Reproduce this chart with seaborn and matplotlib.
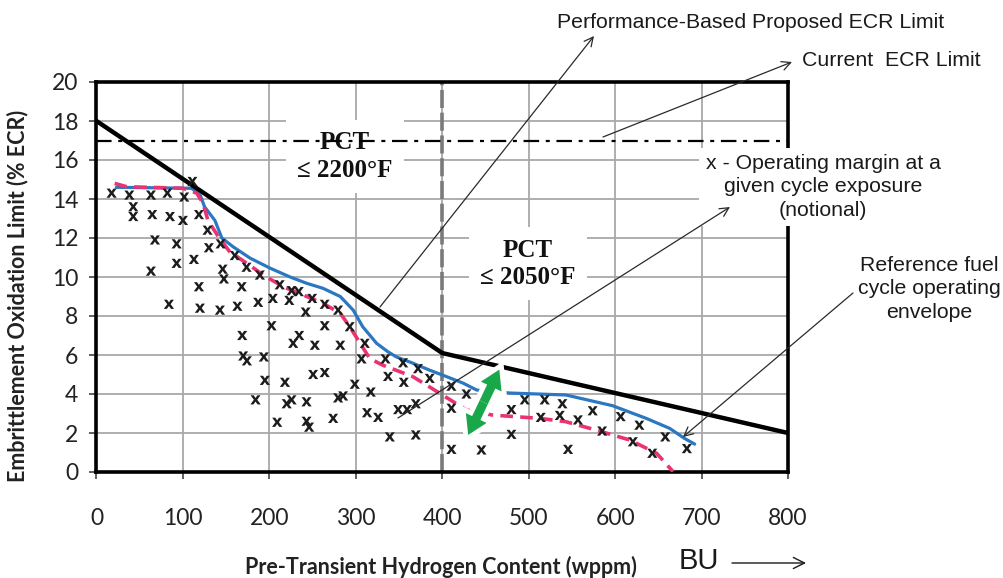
import numpy as np
import pandas as pd
import matplotlib
matplotlib.use("Agg")
import matplotlib.pyplot as plt
import seaborn as sns
from matplotlib.patches import FancyArrowPatch

# ---------------- data ----------------
limit_x = [0, 400, 800]
limit_y = [18.0, 6.1, 2.0]

current_x = [0, 800]
current_y = [17.0, 17.0]

blue_x = [23, 110, 120, 125, 137, 145, 158, 178, 201, 224, 243, 262, 282, 297, 308, 324,
          337, 347, 366, 385, 405, 424, 440, 478, 543, 597, 636, 663, 680, 692]
blue_y = [14.6, 14.55, 14.2, 13.6, 12.9, 12.0, 11.55, 10.96, 10.45, 10.0, 9.68, 9.42, 9.0,
          8.3, 7.45, 6.6, 6.17, 5.9, 5.58, 5.23, 4.89, 4.56, 4.2, 4.05, 3.95, 3.4, 2.75,
          2.24, 1.73, 1.43]

pink_x = [21, 35, 100, 116, 123, 129, 141, 154, 174, 193, 216, 239, 262, 282, 293, 305, 316,
          330, 366, 397, 428, 458, 513, 543, 578, 617, 648, 667]
pink_y = [14.8, 14.63, 14.55, 14.3, 13.8, 12.9, 12.07, 11.3, 10.7, 10.1, 9.5, 9.08, 8.65,
          8.14, 7.45, 6.6, 5.83, 5.5, 4.89, 4.04, 3.18, 2.92, 2.75, 2.58, 2.15, 1.64, 0.96, 0.02]

pts_x = [17.5, 38, 63, 82, 101.5, 111, 42.5, 42.5, 64.5, 85, 100, 118.5, 128.5, 67.6, 92.7,
         130, 143.6, 63, 92.7, 112.7, 146, 147.4, 160, 173.6, 189, 118.5, 168, 83.8, 119.7,
         142.8, 163, 187, 204, 223, 212, 225.7, 234, 249.5, 264, 279.5, 242, 168.6, 202.5,
         264, 234.5, 227.5, 252.6, 282, 169.7, 174, 193.6, 194.8, 218, 184, 220, 225.7, 243,
         250.6, 264, 279.5, 285.3, 209, 243, 246, 273.8,
         293, 310.4, 306.6, 334.3, 354.7, 372, 337.3, 355.5, 385.5, 298.8, 317.3, 313, 325.8,
         349, 359.3, 369.4, 339.3, 369.4, 410.6, 410.6, 428, 410.6, 445.3, 480, 480, 495.4,
         518.5, 539, 514, 536, 557, 574, 545.5, 585, 606.4, 628, 620.6, 643, 658, 683]
pts_y = [14.3, 14.2, 14.2, 14.3, 14.1, 14.9, 13.6, 13.1, 13.2, 13.1, 12.9, 13.2, 12.4, 11.9, 11.7,
         11.5, 11.7, 10.3, 10.7, 10.9, 10.4, 9.9, 11.1, 10.5, 10.1, 9.5, 9.5, 8.6, 8.4,
         8.3, 8.5, 8.7, 8.9, 8.8, 9.6, 9.3, 9.25, 8.9, 8.6, 8.3, 8.2, 7.0, 7.5,
         7.5, 7.0, 6.6, 6.5, 6.5, 5.95, 5.7, 5.9, 4.7, 4.6, 3.7, 3.5, 3.7, 3.6,
         5.0, 5.1, 3.8, 3.9, 2.55, 2.6, 2.3, 2.75,
         7.45, 6.6, 5.8, 5.8, 5.6, 5.3, 4.9, 4.6, 4.8, 4.5, 4.1, 3.04, 2.8,
         3.2, 3.2, 3.5, 1.8, 1.9, 4.4, 3.27, 4.0, 1.16, 1.13, 3.2, 1.93, 3.7,
         3.7, 3.5, 2.8, 2.9, 2.67, 3.14, 1.16, 2.1, 2.84, 2.4, 1.55, 0.96, 1.8, 1.2]

margin_arrow_x = [430, 466]
margin_arrow_y = [1.9, 5.25]

x_ticks = list(range(0, 801, 100))
y_ticks = list(range(0, 21, 2))

# ---------------- style ----------------
sns.set_theme(style="white")
plt.rcParams["font.family"] = ["Lato", "DejaVu Sans"]

W, H = 1004, 578
fig = plt.figure(figsize=(W / 100, H / 100), dpi=100)
ax = fig.add_axes([96.5 / W, 106 / H, 691.5 / W, 390 / H])

def fx(px):
    return px / W

def fy(py):
    return 1 - py / H

# reference lines
ax.axvline(400, color="#7a7a7a", lw=2.6, dashes=(5, 1.3), zorder=2)

sns.lineplot(x=blue_x, y=blue_y, ax=ax, color="#2b78c2", lw=2.3, sort=False,
             estimator=None, zorder=3)
sns.lineplot(x=pink_x, y=pink_y, ax=ax, color="#ea3373", lw=2.6, sort=False,
             estimator=None, zorder=3.2)
ax.lines[-1].set_dashes([3.5, 2])

sns.lineplot(x=limit_x, y=limit_y, ax=ax, color="black", lw=3.2, sort=False,
             estimator=None, zorder=4)
sns.lineplot(x=current_x, y=current_y, ax=ax, color="black", lw=1.6, sort=False,
             estimator=None, zorder=4)
ax.lines[-1].set_dashes([7, 3, 1.8, 3])

sns.scatterplot(x=pts_x, y=pts_y, ax=ax, marker=r"$\mathbf{x}$", s=55, color="#1c1c1c",
                edgecolor="none", linewidth=0, zorder=5)

# green double arrow with white outline
mid = ((margin_arrow_x[0] + margin_arrow_x[1]) / 2, (margin_arrow_y[0] + margin_arrow_y[1]) / 2)
ends = [(margin_arrow_x[0], margin_arrow_y[0]), (margin_arrow_x[1], margin_arrow_y[1])]
style = "simple,head_length=1.35,head_width=1.65,tail_width=0.65"
for end in ends:
    ax.add_patch(FancyArrowPatch(mid, end, arrowstyle=style, mutation_scale=10,
                                 fc="white", ec="white", lw=7, shrinkA=0, shrinkB=0,
                                 zorder=5.5, joinstyle="miter"))
for end in ends:
    ax.add_patch(FancyArrowPatch(mid, end, arrowstyle=style, mutation_scale=10,
                                 fc="#18a84a", ec="none", lw=0, shrinkA=0, shrinkB=0,
                                 zorder=6))

# PCT region labels
pct_kw = dict(family="Liberation Serif", weight="bold", size=18, ha="center", va="center",
              color="#111111", linespacing=1.25,
              bbox=dict(boxstyle="square,pad=0.45", fc="white", ec="none"), zorder=1)
ax.text(287, 16.18, "PCT\n≤ 2200°F", **pct_kw)
ax.text(499, 10.67, "PCT\n≤ 2050°F", **pct_kw)

# axes styling
ax.set_xlim(0, 800)
ax.set_ylim(0, 20)
ax.set_xticks(x_ticks)
ax.set_yticks(y_ticks)
ax.set_axisbelow(True)
ax.grid(True, color="#a8a8a8", lw=1.3)
for s in ax.spines.values():
    s.set_color("black")
    s.set_linewidth(2.6)
ax.tick_params(axis="both", direction="out", length=5, width=1.2, color="#444444",
               labelsize=16.5, labelcolor="#222222")
ax.tick_params(axis="x", pad=21, bottom=True)
ax.tick_params(axis="y", pad=8, left=True)

ax.set_xlabel("Pre-Transient Hydrogen Content (wppm)", weight="bold", size=15.5, color="#222222")
ax.set_ylabel("Embrittlement Oxidation Limit (% ECR)", weight="bold", size=15.5, color="#222222")
ax.xaxis.label.set_va("center")
ax.xaxis.set_label_coords((441 - 96.5) / 691.5, (472 - 567) / 390)
ax.yaxis.label.set_va("center")
ax.yaxis.label.set_ha("center")
ax.yaxis.set_label_coords((18 - 96.5) / 691.5, (472 - 296) / 390)

# annotation texts (figure positioned, drawn inside axes so arrows sit above boxes)
tkw = dict(transform=fig.transFigure, family=["Liberation Sans", "DejaVu Sans"], size=15.3,
           color="#1a1a1a", clip_on=False, zorder=3)
ax.text(fx(751), fy(23), "Performance-Based Proposed ECR Limit", ha="center", va="center", **tkw)
ax.text(fx(802), fy(60), "Current  ECR Limit", ha="left", va="center", **tkw)
ax.text(fx(823), fy(187), "x - Operating margin at a\ngiven cycle exposure\n(notional)",
        ha="center", va="center", linespacing=1.3,
        bbox=dict(boxstyle="square,pad=0.3", fc="white", ec="none"), **tkw)
ax.text(fx(929), fy(289), "Reference fuel\ncycle operating\nenvelope",
        ha="center", va="center", linespacing=1.3, **tkw)
ax.text(fx(699), fy(561), "BU", ha="center", va="center",
        **{**tkw, "size": 21})

def dpt(px, py):
    return ((px - 96.5) / 0.8644, (472 - py) / 19.5)

akw = dict(arrowstyle="->", color="#2a2a2a", lw=0.9, shrinkA=0, shrinkB=0, mutation_scale=16)
for start, end in [((380, 307), (594, 36)), ((603, 137), (792, 62)),
                   ((398, 418), (730, 207)), ((853, 293), (683, 437))]:
    ax.annotate("", xy=dpt(*end), xytext=dpt(*start), xycoords="data", textcoords="data",
                arrowprops=akw, annotation_clip=False, zorder=7)

ax.annotate("", xy=(fx(806), fy(563)), xytext=(fx(732), fy(563)), xycoords="figure fraction",
            textcoords="figure fraction",
            arrowprops=dict(arrowstyle="->", color="#1a1a1a", lw=1.0, shrinkA=0, shrinkB=0,
                            mutation_scale=20), annotation_clip=False)

fig.savefig("out.png", dpi=100, facecolor="white")
